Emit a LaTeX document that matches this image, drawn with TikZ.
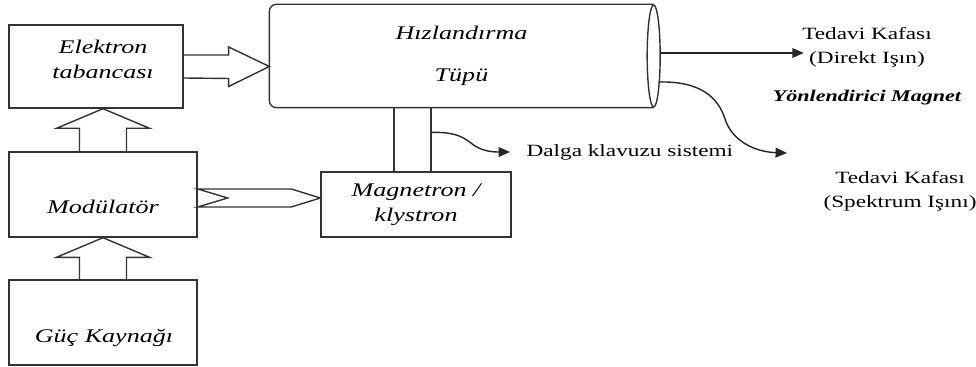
\documentclass[tikz,border=0pt]{standalone}
\usepackage{fontspec}
\setmainfont{Liberation Serif}[FakeStretch=1.35]
\usetikzlibrary{calc,arrows.meta}

\begin{document}
\begin{tikzpicture}
[
 x=0.02cm, y=0.02cm,
 >={Triangle[length=6.5pt,width=5.5pt]},
 line width=0.8pt,
 kutu/.style = {draw=black!80, inner sep=0pt},
 ital/.style = {font=\fontsize{11}{14.2}\itshape, align=center},
 duz/.style = {font=\fontsize{9.8}{13.5}\selectfont, align=center},
 kalin/.style = {font=\fontsize{9.3}{11}\bfseries\itshape},
 blok/.style = {draw=black!80, line join=miter},
 ok/.style = {->, draw=black!85},
]

\useasboundingbox (0,0) rectangle (976,367);

\node (elek) at (96,300.5) [kutu, minimum width=3.48cm, minimum height=1.66cm] {};
\node (elekyazi) at (103,308) [ital] {Elektron\\tabancası};
\node (mod) at (103,172.5) [kutu, minimum width=3.76cm, minimum height=1.7cm] {};
\node (modyazi) at (103,160) [ital] {Modülatör};
\node (guc) at (103,44.5) [kutu, minimum width=3.76cm, minimum height=1.7cm] {};
\node (gucyazi) at (104,29) [ital] {Güç Kaynağı};
\node (mag) at (416,162.5) [kutu, ital, minimum width=3.8cm, minimum height=1.3cm] {Magnetron /\\klystron};
\node (tup) at (461.5,311) [ital, minimum width=7.66cm, minimum height=2.04cm] {Hızlandırma\\[10pt]Tüpü};

\node (direkt) at (867,320) [duz] {Tedavi Kafası\\(Direkt Işın)};
\node (magnet) at (867,269) [kalin] {Yönlendirici Magnet};
\node (spektrum) at (900,176) [duz] {Tedavi Kafası\\(Spektrum Işını)};
\node (dalga) at (520,215) [duz, anchor=west] {Dalga klavuzu sistemi};

% tube
\draw[blok, rounded corners=4pt] (tup.north east) -- (tup.north west) -- (tup.south west) -- (tup.south east);
\draw[blok] (tup.east) ellipse [x radius=6.5, y radius=51];

% block arrows
\draw[blok] ($(guc.north)+(-23.5,0)$) -- ++(0,22) -- ++(-23,0) -- (mod.south) -- ($(guc.north)+(46.5,22)$) -- ++(-23,0) -- ($(guc.north)+(23.5,0)$);
\draw[blok] ($(mod.north)+(-23.5,0)$) -- ++(0,23) -- ++(-23,0) -- (mod.north |- elek.south) -- ($(mod.north)+(46.5,23)$) -- ++(-23,0) -- ($(mod.north)+(23.5,0)$);
\draw[blok] ($(elek.east)+(0,11.5)$) -- ++(45,0) -- ++(0,8) -- (tup.west |- elek.east) -- ($(elek.east)+(45,-20)$) -- ++(0,8) -- ($(elek.east)+(0,-11.5)$);

\coordinate (m1) at ($(mag.west)+(0,6.5)$);
\coordinate (m0) at (mod.east |- m1);
\draw[blok] ($(m0)+(0,9)$) -- ($(m1)+(-29,9)$) -- (m1) -- ($(m1)+(-29,-9)$) -- ($(m0)+(0,-9)$) -- ($(m0)+(30,0)$) -- cycle;

% waveguide
\coordinate (w1) at ($(mag.north)+(-22,0)$);
\coordinate (w2) at ($(mag.north)+(15,0)$);
\draw[blok] (w1) -- (w1 |- tup.south);
\draw[blok] (w2) -- (w2 |- tup.south);
\coordinate (w3) at ($(w2)+(0,39)$);
\draw[ok] (w3) .. controls (460,235) and (465,228) .. (475,221) .. controls (485,215) and (495,215) .. ($(dalga.west)+(-10,0)$);

% outputs
\coordinate (d0) at ($(tup.east)+(6.5,3)$);
\draw[ok] (d0) -- ($(d0 -| direkt.west)+(8,0)$);
\coordinate (s0) at (658.5,285);
\coordinate (s1) at (787,214);
\draw[ok] (s0) .. controls (700,286) and (718,270) .. (725,248) .. controls (732,226) and (755,215) .. (s1);

\end{tikzpicture}
\end{document}
